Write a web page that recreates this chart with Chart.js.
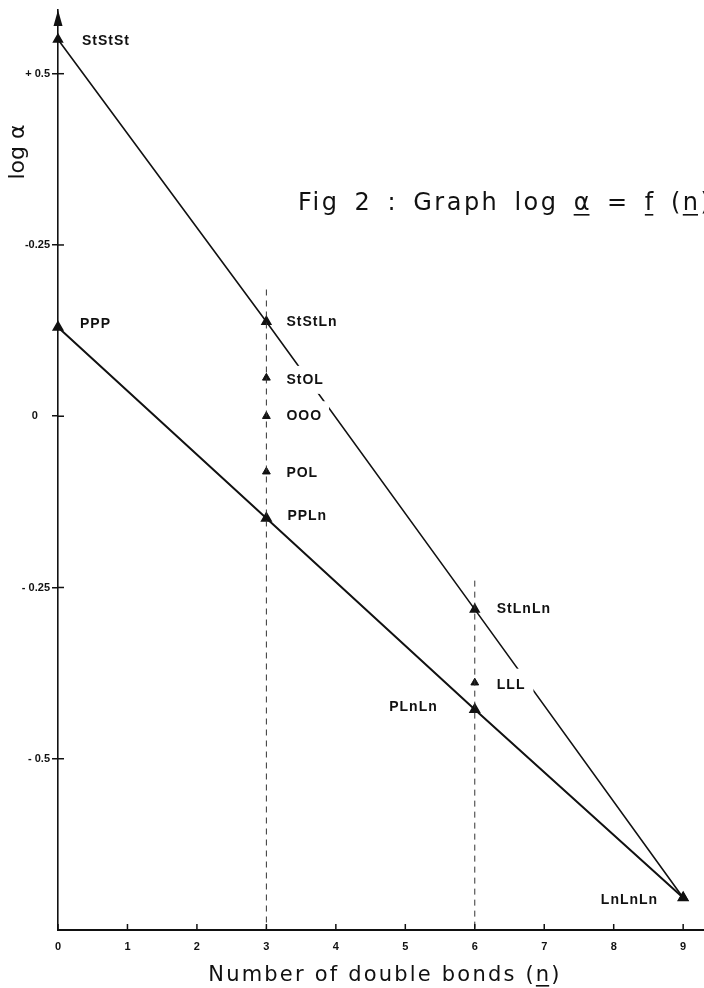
<!DOCTYPE html>
<html>
<head>
<meta charset="utf-8">
<script src="https://cdn.jsdelivr.net/npm/chart.js@4.4.1/dist/chart.umd.min.js"></script>
<style>
	html, body { margin: 0; padding: 0; background: #fff; }
</style>
</head>
<body>
<canvas id="Chart_Fig2" width="704" height="988"></canvas>
<script>
// log alpha against number of double bonds (n)
const upper_names = ['StStSt', 'StStLn', 'StLnLn', 'LnLnLn'];
const upper_n = [0, 3, 6, 9];
const upper_log = [0.55, 0.138, -0.282, -0.703];

const lower_names = ['PPP', 'PPLn', 'PLnLn', 'LnLnLn'];
const lower_n = [0, 3, 6, 9];
const lower_log = [0.13, -0.149, -0.428, -0.703];

const other_names = ['StOL', 'OOO', 'POL', 'LLL'];
const other_n = [3, 3, 3, 6];
const other_log = [0.056, 0, -0.081, -0.389];

// dashed vertical guides
const guide_n = [3, 6];
const guide_top = [0.185, -0.24];

const x_ticks = [0, 1, 2, 3, 4, 5, 6, 7, 8, 9];
const y_ticks = [0.5, 0.25, 0, -0.25, -0.5];
const y_tick_labels = ['+ 0.5', '-0.25', '0    ', '- 0.25', '- 0.5'];

const y_min = -0.75;
const y_max = 0.593;

// label placement (dx from point, side, white knockout padding)
const label_style = {
	StStSt: { dx: 24, dy: 2, side: 'right', pad: 0 },
	StStLn: { dx: 20, dy: 0, side: 'right', pad: 0 },
	StLnLn: { dx: 22, dy: 0, side: 'right', pad: 0 },
	LnLnLn: { dx: -25, dy: 2, side: 'left', pad: 0 },
	PPP: { dx: 22, dy: -3, side: 'right', pad: 0 },
	PPLn: { dx: 21, dy: -2, side: 'right', pad: 0 },
	PLnLn: { dx: -37, dy: -2, side: 'left', pad: 0 },
	StOL: { dx: 20, dy: 2, side: 'right', pad: 6 },
	OOO: { dx: 20, dy: 0, side: 'right', pad: 7 },
	POL: { dx: 20, dy: 1, side: 'right', pad: 0 },
	LLL: { dx: 22, dy: 2, side: 'right', pad: 8 }
};

const INK = '#111';

function to_points(xs, ys) {
	const pts = [];
	let idx = 0;
	while(idx < xs.length) {
		pts.push({ x: xs[idx], y: ys[idx] });
		idx++;
	}
	return pts;
}

function set_spacing(ctx, letter, word) {
	ctx.letterSpacing = letter + 'px';
	ctx.wordSpacing = word + 'px';
}

function underline(ctx, full, part_start, part, x, baseline, letter, word) {
	set_spacing(ctx, letter, word);
	const x0 = x + ctx.measureText(full.slice(0, part_start)).width;
	const w = ctx.measureText(part).width - letter;
	set_spacing(ctx, 0, 0);
	ctx.fillRect(x0, baseline + 4, w, 1.6);
}

const point_labels = {
	id: 'point_labels',
	afterDatasetsDraw(chart) {
		const ctx = chart.ctx;
		const sets = [
			{ idx: 2, names: upper_names },
			{ idx: 3, names: lower_names },
			{ idx: 4, names: other_names }
		];
		ctx.save();
		ctx.font = 'bold 14px "Liberation Sans"';
		ctx.textBaseline = 'middle';
		for(const s of sets) {
			const meta = chart.getDatasetMeta(s.idx);
			s.names.forEach((name, i) => {
				if(s.idx === 2 && name === 'LnLnLn') return;
				const st = label_style[name];
				const pt = meta.data[i];
				ctx.letterSpacing = '1px';
				const w = ctx.measureText(name).width;
				const left = st.side === 'right' ? pt.x + st.dx : pt.x + st.dx - w;
				const cy = pt.y + st.dy;
				if(st.pad > 0) {
					ctx.fillStyle = '#fff';
					ctx.fillRect(left - st.pad, cy - 8 - st.pad, w + 2 * st.pad, 16 + 2 * st.pad);
				}
				ctx.fillStyle = INK;
				ctx.textAlign = 'left';
				ctx.fillText(name, left, cy);
				ctx.letterSpacing = '0px';
			});
		}
		ctx.restore();
	}
};

const axis_extras = {
	id: 'axis_extras',
	afterDraw(chart) {
		const ctx = chart.ctx;
		const area = chart.chartArea;
		const xs = chart.scales.x;
		const ys = chart.scales.y;
		ctx.save();
		ctx.strokeStyle = INK;
		ctx.fillStyle = INK;
		ctx.lineWidth = 1.5;

		// y ticks cross the axis
		for(const v of y_ticks) {
			const py = ys.getPixelForValue(v);
			ctx.beginPath();
			ctx.moveTo(area.left, py);
			ctx.lineTo(area.left + 6, py);
			ctx.stroke();
		}
		// x ticks point up
		for(const v of x_ticks) {
			const px = xs.getPixelForValue(v);
			ctx.beginPath();
			ctx.moveTo(px, area.bottom);
			ctx.lineTo(px, area.bottom - 6);
			ctx.stroke();
		}
		// arrow head on y axis
		ctx.beginPath();
		ctx.moveTo(area.left, area.top);
		ctx.lineTo(area.left - 4.5, area.top + 16);
		ctx.lineTo(area.left + 4.5, area.top + 16);
		ctx.closePath();
		ctx.fill();

		// y title
		ctx.save();
		ctx.translate(18, 152);
		ctx.rotate(-Math.PI / 2);
		ctx.font = '22px "DejaVu Sans"';
		ctx.textAlign = 'center';
		ctx.textBaseline = 'middle';
		ctx.fillText('log α', 0, 0);
		ctx.restore();

		// figure title, runs off the right edge as in the scan
		const title = 'Fig 2 : Graph log α = f (n)';
		ctx.font = '24px "DejaVu Sans"';
		ctx.textAlign = 'left';
		ctx.textBaseline = 'alphabetic';
		set_spacing(ctx, 2.5, 5);
		ctx.fillText(title, 298, 210);
		set_spacing(ctx, 0, 0);
		underline(ctx, title, title.indexOf('α'), 'α', 298, 210, 2.5, 5);
		underline(ctx, title, title.indexOf('f'), 'f', 298, 210, 2.5, 5);
		underline(ctx, title, title.lastIndexOf('n'), 'n', 298, 210, 2.5, 5);

		// x title
		const xt = 'Number of double bonds (n)';
		ctx.font = '21px "DejaVu Sans"';
		set_spacing(ctx, 2.2, 0);
		const xw = ctx.measureText(xt).width;
		const xl = 385 - xw / 2;
		ctx.fillText(xt, xl, 981);
		set_spacing(ctx, 0, 0);
		underline(ctx, xt, xt.lastIndexOf('n'), 'n', xl, 981, 2.2, 0);

		ctx.restore();
	}
};

function init() {
	const ctx = document.getElementById('Chart_Fig2').getContext('2d');

	const datasets = [];
	guide_n.forEach((n, i) => {
		datasets.push({
			data: [{ x: n, y: guide_top[i] }, { x: n, y: y_min }],
			showLine: true,
			borderColor: '#333',
			borderWidth: 1,
			borderDash: [6, 5],
			pointRadius: 0
		});
	});
	datasets.push({
		data: to_points(upper_n, upper_log),
		showLine: true,
		borderColor: INK,
		borderWidth: 1.6,
		pointStyle: 'triangle',
		pointRadius: 5,
		pointBackgroundColor: INK,
		pointBorderColor: INK,
		clip: false
	});
	datasets.push({
		data: to_points(lower_n, lower_log),
		showLine: true,
		borderColor: INK,
		borderWidth: 2,
		pointStyle: 'triangle',
		pointRadius: 5,
		pointBackgroundColor: INK,
		pointBorderColor: INK,
		clip: false
	});
	datasets.push({
		data: to_points(other_n, other_log),
		showLine: false,
		pointStyle: 'triangle',
		pointRadius: 4.5,
		pointBackgroundColor: INK,
		pointBorderColor: INK,
		clip: false
	});

	const options = {
		responsive: false,
		animation: false,
		layout: {
			autoPadding: false,
			padding: { top: 10, right: 0, bottom: 0, left: 0 }
		},
		plugins: {
			legend: { display: false },
			tooltip: { enabled: false }
		},
		scales: {
			x: {
				type: 'linear',
				min: 0,
				max: 9.3,
				afterFit: s => { s.height = 58; s.paddingLeft = 0; s.paddingRight = 0; },
				afterBuildTicks: s => { s.ticks = x_ticks.map(v => ({ value: v })); },
				grid: { display: true, drawOnChartArea: false, drawTicks: false },
				border: { display: true, color: INK, width: 2 },
				ticks: {
					padding: 10,
					color: INK,
					font: { family: 'Liberation Sans', size: 11, weight: 'bold' },
					callback: v => String(v)
				}
			},
			y: {
				type: 'linear',
				min: y_min,
				max: y_max,
				afterFit: s => { s.width = 58; s.paddingTop = 0; s.paddingBottom = 0; },
				afterBuildTicks: s => { s.ticks = y_ticks.map(v => ({ value: v })); },
				grid: { display: true, drawOnChartArea: false, tickLength: 6, color: INK, lineWidth: 1.5 },
				border: { display: true, color: INK, width: 1.6 },
				ticks: {
					padding: 2,
					color: INK,
					font: { family: 'Liberation Sans', size: 11, weight: 'bold' },
					callback: v => y_tick_labels[y_ticks.indexOf(v)]
				}
			}
		}
	};

	new Chart(ctx, {
		type: 'scatter',
		data: { datasets: datasets },
		options: options,
		plugins: [point_labels, axis_extras]
	});
}

window.onload = init;
</script>
</body>
</html>
